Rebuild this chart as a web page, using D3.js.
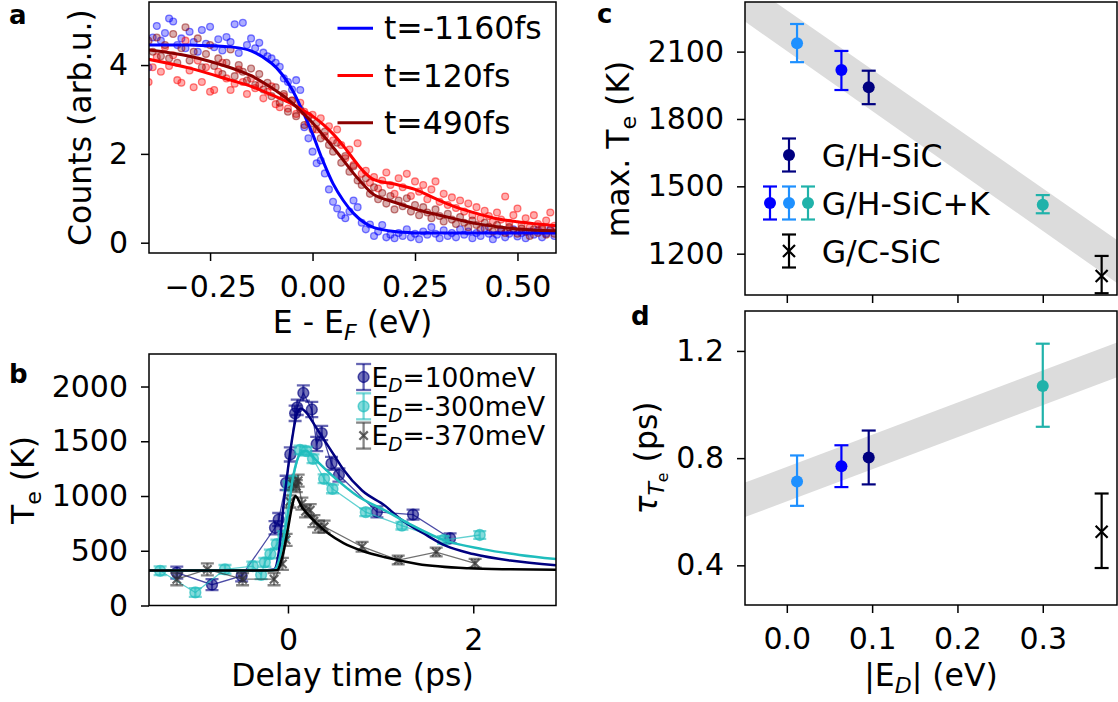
<!DOCTYPE html>
<html>
<head>
<meta charset="utf-8">
<script src="https://cdn.jsdelivr.net/npm/d3@7"></script>
<style>
  body { margin: 0; background: #fff; }
  text { font-family: "DejaVu Sans", sans-serif; }
</style>
</head>
<body>
<svg id="fig" width="1118" height="702"></svg>
<script>
/////////// panel a : EDC data ///////////
var energy = [-0.40,-0.39,-0.38,-0.37,-0.36,-0.35,-0.34,-0.33,-0.32,-0.31,
  -0.30,-0.29,-0.28,-0.27,-0.26,-0.25,-0.24,-0.23,-0.22,-0.21,
  -0.20,-0.19,-0.18,-0.17,-0.16,-0.15,-0.14,-0.13,-0.12,-0.11,
  -0.10,-0.09,-0.08,-0.07,-0.06,-0.05,-0.04,-0.03,-0.02,-0.01,
  0.00,0.01,0.02,0.03,0.04,0.05,0.06,0.07,0.08,0.09,
  0.10,0.11,0.12,0.13,0.14,0.15,0.16,0.17,0.18,0.19,
  0.20,0.21,0.22,0.23,0.24,0.25,0.26,0.27,0.28,0.29,
  0.30,0.31,0.32,0.33,0.34,0.35,0.36,0.37,0.38,0.39,
  0.40,0.41,0.42,0.43,0.44,0.45,0.46,0.47,0.48,0.49,
  0.50,0.51,0.52,0.53,0.54,0.55,0.56,0.57,0.58,0.59];
var countsBlue = [3.95,4.62,4.88,4.55,4.72,5.05,4.98,4.45,4.60,4.38,
  4.75,4.52,4.30,4.79,4.48,4.86,4.40,4.58,4.33,4.63,
  4.52,4.92,4.27,4.95,4.45,4.60,4.38,4.50,4.28,4.20,
  4.15,4.05,3.96,3.70,3.62,3.45,3.66,3.44,2.60,2.35,
  2.05,1.79,1.85,1.56,1.20,0.92,0.77,0.62,0.55,0.70,
  0.95,0.80,0.45,0.30,0.41,0.15,0.25,0.40,0.12,0.18,
  0.10,0.22,0.15,0.30,0.12,0.20,0.08,0.25,0.18,0.35,
  0.20,0.10,0.28,0.15,0.22,0.12,0.30,0.18,0.25,0.10,
  0.22,0.15,0.32,0.20,0.08,0.18,0.26,0.12,0.20,0.30,
  0.14,0.22,0.10,0.25,0.18,0.28,0.12,0.20,0.30,0.15];
var countsRed = [3.62,3.95,4.18,3.85,4.40,3.98,4.22,3.66,3.60,4.55,
  3.88,3.50,4.10,3.62,3.95,3.40,3.44,3.85,4.05,3.70,
  3.44,3.58,3.90,3.62,3.35,3.70,3.48,3.55,3.25,3.40,
  3.52,3.12,3.05,3.30,3.02,3.20,2.90,3.15,2.95,2.70,
  2.88,2.55,2.80,2.40,2.62,2.30,2.55,2.20,1.90,2.10,
  1.75,2.24,1.55,1.62,1.35,1.48,1.22,1.40,1.58,1.30,
  1.10,1.45,1.25,1.55,1.05,1.38,1.15,1.30,0.98,1.20,
  1.38,0.92,1.10,0.85,1.02,0.78,0.95,0.70,0.88,0.62,
  0.80,0.55,0.72,0.60,0.48,0.68,0.52,1.04,0.45,0.62,
  0.77,0.40,0.55,0.35,0.62,0.42,0.30,0.50,0.68,0.38];
var countsDarkRed = [4.55,4.30,4.62,4.20,4.45,4.15,4.70,4.05,4.38,4.85,
  4.10,4.30,4.60,3.95,4.25,4.45,3.98,4.15,3.80,4.05,
  4.35,3.75,4.00,3.85,3.65,3.92,3.55,3.80,3.45,3.60,
  3.30,3.50,3.15,3.35,2.95,3.20,2.85,3.00,2.65,2.85,
  2.55,2.70,2.35,2.50,2.20,2.05,2.25,1.80,1.95,1.60,
  1.72,1.40,1.30,1.45,1.10,1.25,0.98,1.12,0.88,1.05,
  0.75,0.95,0.82,1.00,0.70,0.85,0.62,0.80,0.68,0.55,
  0.75,0.60,0.48,0.65,0.52,0.42,0.58,0.45,0.35,0.50,
  0.40,0.30,0.45,0.36,0.25,0.40,0.30,0.22,0.35,0.28,
  0.20,0.32,0.25,0.15,0.30,0.22,0.35,0.18,0.28,0.20];

// fitted curves
var fitE = [-0.40,-0.30,-0.20,-0.15,-0.10,-0.075,-0.05,-0.025,0,0.025,0.05,0.075,
  0.10,0.125,0.15,0.20,0.25,0.30,0.35,0.40,0.45,0.50,0.55,0.595];
var fitBlue = [4.45,4.45,4.41,4.32,4.04,3.80,3.45,2.98,2.45,1.85,1.33,0.95,
  0.66,0.46,0.34,0.25,0.22,0.22,0.22,0.22,0.22,0.22,0.22,0.22];
var fitRed = [4.13,3.93,3.66,3.52,3.33,3.23,3.12,2.99,2.85,2.67,2.45,2.18,
  1.88,1.60,1.42,1.32,1.20,0.99,0.80,0.66,0.54,0.47,0.42,0.38];
var fitDarkRed = [4.34,4.20,3.94,3.76,3.49,3.33,3.15,2.93,2.70,2.43,2.15,1.86,
  1.56,1.30,1.08,0.91,0.76,0.64,0.53,0.43,0.36,0.31,0.28,0.27];
var legendA = ["t=-1160fs", "t=120fs", "t=490fs"];
var ticksAx = [-0.25, 0, 0.25, 0.5];
var ticksAy = [0, 2, 4];

/////////// panel b : electron temperature ///////////
var navyT   = [-1.20,-0.82,-0.50,-0.14,-0.10,-0.02,0.025,0.077,0.10,0.166,0.257,0.31,0.364,0.47,0.55,0.96,1.35,1.75];
var navyTe  = [300,190,270,710,785,1120,1380,1755,1810,1941,1790,1475,1575,1298,1192,855,830,614];
var navyErr = [55,50,50,60,60,65,65,70,70,70,70,65,65,60,60,50,45,45];
var cyanT   = [-1.38,-1.00,-0.68,-0.38,-0.29,-0.25,-0.19,-0.12,-0.05,0.01,0.05,0.13,0.20,0.27,0.39,0.48,0.84,1.23,1.68,2.07];
var cyanTe  = [317,119,330,360,280,394,470,561,640,1095,1140,1420,1410,1340,1157,1065,852,729,598,644];
var cyanErr = [40,40,40,40,40,40,40,40,40,40,40,40,40,40,40,40,35,35,35,35];
var blackT  = [-1.20,-0.87,-0.49,-0.15,-0.06,-0.02,0.02,0.05,0.09,0.11,0.15,0.19,0.24,0.28,0.33,0.39,0.80,1.19,1.60,2.02];
var blackTe = [240,330,240,240,380,600,950,1110,1090,1140,930,860,870,770,720,720,537,415,488,385];
var blackErr = [55,55,55,55,55,55,55,55,55,55,55,55,55,55,55,55,45,40,40,40];
var navyFitT  = [-1.5,-0.3,-0.15,-0.10,-0.05,0,0.05,0.10,0.14,0.20,0.30,0.40,0.50,0.60,0.80,1.05,1.20,1.50,1.70,2.00,2.40,2.893];
var navyFitTe = [320,320,330,480,900,1250,1550,1760,1800,1760,1630,1500,1370,1240,1050,910,800,640,546,470,410,368];
var cyanFitT  = [-1.5,-0.3,-0.15,-0.10,-0.05,0,0.05,0.10,0.15,0.20,0.30,0.50,0.75,1.05,1.30,1.70,2.10,2.50,2.893];
var cyanFitTe = [320,320,325,400,600,850,1150,1330,1400,1410,1330,1170,1000,866,750,592,515,462,424];
var blackFitT  = [-1.5,-0.3,-0.12,-0.06,0,0.05,0.08,0.15,0.30,0.44,0.60,0.80,1.05,1.40,1.95,2.40,2.893];
var blackFitTe = [320,320,322,450,700,930,1000,900,760,655,570,500,440,380,340,330,326];
var legendB = ["=100meV", "=-300meV", "=-370meV"];
var ticksBx = [0, 2];
var ticksBy = [0, 500, 1000, 1500, 2000];

/////////// panels c, d : vs |E_D| ///////////
var absED   = [0.012, 0.064, 0.096, 0.300, 0.369];
var maxTe   = [2137, 2018, 1941, 1418, 1101];
var maxTeLo = [2053, 1929, 1866, 1380, 1024];
var maxTeHi = [2223, 2103, 2015, 1461, 1190];
var tauTe   = [0.713, 0.770, 0.802, 1.069, 0.525];
var tauLo   = [0.622, 0.692, 0.702, 0.917, 0.390];
var tauHi   = [0.810, 0.848, 0.903, 1.227, 0.668];
var pointColor = ["#1e90ff", "#0000ff", "#000080", "#20b2aa", "#000000"];
var pointShape = ["o", "o", "o", "o", "x"];
var bandX = [-0.049, 0.387];
var bandCLo = [2234, 1069], bandCHi = [2414, 1261];
var bandDLo = [0.580, 1.102], bandDHi = [0.709, 1.231];
var legendC = ["G/H-SiC", "G/H-SiC+K", "G/C-SiC"];
var ticksCDx = [0, 0.1, 0.2, 0.3];
var ticksCy = [1200, 1500, 1800, 2100];
var ticksDy = [0.4, 0.8, 1.2];

var svg = d3.select("#fig");
svg.append("rect").attr("width", 1118).attr("height", 702).attr("fill", "#fff");
var defs = svg.append("defs");

var TICK_FS = 30, LABEL_FS = 31.5;

function makePanel(id, x0, y0, x1, y1) {
	var w = x1 - x0, h = y1 - y0;
	var g = svg.append("g").attr("transform", "translate(" + x0 + "," + y0 + ")");
	defs.append("clipPath").attr("id", id).append("rect").attr("width", w).attr("height", h);
	var plot = g.append("g").attr("clip-path", "url(#" + id + ")");
	return { g: g, plot: plot, w: w, h: h };
}

function styleAxis(ax) {
	ax.select(".domain").remove();
	ax.selectAll(".tick line").attr("stroke", "#000").attr("stroke-width", 1.5);
	ax.selectAll(".tick text").attr("font-size", TICK_FS).attr("font-family", "DejaVu Sans").attr("fill", "#000");
}

function leftAxis(p, scale, ticks, fmt) {
	var ax = p.g.append("g").call(d3.axisLeft(scale).tickValues(ticks).tickFormat(fmt).tickSize(8).tickPadding(13));
	styleAxis(ax);
}

function bottomAxis(p, scale, ticks, fmt, noLabels) {
	var a = d3.axisBottom(scale).tickValues(ticks).tickSize(8).tickPadding(14.7);
	a.tickFormat(noLabels ? function() { return ""; } : fmt);
	var ax = p.g.append("g").attr("transform", "translate(0," + p.h + ")").call(a);
	styleAxis(ax);
}

function frame(p) {
	p.g.append("rect").attr("width", p.w).attr("height", p.h)
		.attr("fill", "none").attr("stroke", "#000").attr("stroke-width", 1.5);
}

// text with subscripts: parts = [[text, kind]] kind: "", "sub", "subi", "subsub", "i"
function richText(g, parts, fs) {
	var t = g.append("text").attr("font-size", fs).attr("fill", "#000");
	var level = 0;
	parts.forEach(function(pt) {
		var s = t.append("tspan").text(pt[0]);
		var target = 0;
		if (pt[1] == "sub" || pt[1] == "subi") target = 1;
		if (pt[1] == "subsub") target = 2;
		var shift = [0, 0.22, 0.36][target] - [0, 0.22, 0.36][level];
		if (shift != 0) s.attr("dy", (shift * fs).toFixed(2));
		if (target == 1) s.attr("font-size", fs * 0.7);
		if (target == 2) s.attr("font-size", fs * 0.5);
		if (pt[1] == "subi" || pt[1] == "i") s.attr("font-style", "italic");
		level = target;
	});
	return t;
}

function panelLetter(x, y, s) {
	svg.append("text").attr("x", x).attr("y", y).attr("font-size", 26).attr("font-weight", "bold").text(s);
}

function errorbars(plot, xs, ys, lo, hi, x, y, color, capW, lw, op) {
	var eg = plot.append("g").attr("stroke", color).attr("stroke-width", lw).attr("stroke-opacity", op);
	xs.forEach(function(xv, i) {
		var px = x(xv);
		eg.append("line").attr("x1", px).attr("x2", px).attr("y1", y(lo[i])).attr("y2", y(hi[i]));
		eg.append("line").attr("x1", px - capW / 2).attr("x2", px + capW / 2).attr("y1", y(lo[i])).attr("y2", y(lo[i]));
		eg.append("line").attr("x1", px - capW / 2).attr("x2", px + capW / 2).attr("y1", y(hi[i])).attr("y2", y(hi[i]));
	});
}

function crossMark(g, px, py, r, color, lw, op) {
	g.append("path").attr("d", "M" + (px - r) + "," + (py - r) + "L" + (px + r) + "," + (py + r) +
		"M" + (px - r) + "," + (py + r) + "L" + (px + r) + "," + (py - r))
		.attr("stroke", color).attr("stroke-width", lw).attr("stroke-opacity", op).attr("fill", "none");
}

/////////// panel a ///////////
var pa = makePanel("clipA", 149, 2, 556, 253);
var xa = d3.scaleLinear().domain([-0.399, 0.594]).range([0, pa.w]);
var ya = d3.scaleLinear().domain([-0.232, 5.42]).range([pa.h, 0]);

var seriesA = [
	{ c: countsBlue, fit: fitBlue, color: "#0000ff" },
	{ c: countsRed, fit: fitRed, color: "#ff0000" },
	{ c: countsDarkRed, fit: fitDarkRed, color: "#8b0000" }
];
seriesA.forEach(function(s) {
	pa.plot.append("g").selectAll("circle").data(energy).enter().append("circle")
		.attr("cx", function(d) { return xa(d); })
		.attr("cy", function(d, i) { return ya(s.c[i]); })
		.attr("r", 3.4)
		.attr("fill", s.color).attr("fill-opacity", 0.32)
		.attr("stroke", s.color).attr("stroke-opacity", 0.5).attr("stroke-width", 1.3);
});
seriesA.forEach(function(s) {
	var line = d3.line().x(function(d) { return xa(d); }).y(function(d, i) { return ya(s.fit[i]); })
		.curve(d3.curveCatmullRom.alpha(0.5));
	pa.plot.append("path").attr("d", line(fitE)).attr("fill", "none").attr("stroke", s.color).attr("stroke-width", 3);
});
frame(pa);
leftAxis(pa, ya, ticksAy, d3.format("d"));
bottomAxis(pa, xa, ticksAx, d3.format(".2f"));

// legend a
legendA.forEach(function(lbl, i) {
	var ly = 26.3 + i * 47.2;
	pa.g.append("line").attr("x1", 337.5 - 149).attr("x2", 373 - 149).attr("y1", ly).attr("y2", ly)
		.attr("stroke", seriesA[i].color).attr("stroke-width", 3);
	pa.g.append("text").attr("x", 384 - 149).attr("y", ly + 11).attr("font-size", LABEL_FS).text(lbl);
});

richText(svg.append("g").attr("transform", "translate(352.5,333)"),
	[["E - E", ""], ["F", "subi"], [" (eV)", ""]], LABEL_FS).attr("text-anchor", "middle");
svg.append("text").attr("transform", "translate(91,127.5) rotate(-90)").attr("text-anchor", "middle")
	.attr("font-size", LABEL_FS).text("Counts (arb.u.)");
panelLetter(9, 24, "a");

/////////// panel b ///////////
var pb = makePanel("clipB", 149, 354, 556, 605.5);
var xb = d3.scaleLinear().domain([-1.50, 2.893]).range([0, pb.w]);
var yb = d3.scaleLinear().domain([0, 2297]).range([pb.h, 0]);

var seriesB = [
	{ t: navyT, te: navyTe, err: navyErr, color: "#000080", fitT: navyFitT, fitTe: navyFitTe, fitColor: "#000080", mk: "o" },
	{ t: cyanT, te: cyanTe, err: cyanErr, color: "#1fbdbd", fitT: cyanFitT, fitTe: cyanFitTe, fitColor: "#1fbdbd", mk: "o" },
	{ t: blackT, te: blackTe, err: blackErr, color: "#333333", fitT: blackFitT, fitTe: blackFitTe, fitColor: "#000000", mk: "x" }
];
function bMarker(g, s, px, py) {
	if (s.mk == "o") {
		g.append("circle").attr("cx", px).attr("cy", py).attr("r", 5.4)
			.attr("fill", s.color).attr("fill-opacity", 0.55)
			.attr("stroke", s.color).attr("stroke-opacity", 0.65).attr("stroke-width", 1.5);
	} else {
		crossMark(g, px, py, 4.2, s.color, 2.2, 0.75);
	}
}
seriesB.forEach(function(s) {
	var pts = s.t.map(function(t, i) { return [t, s.te[i]]; });
	var line = d3.line().x(function(d) { return xb(d[0]); }).y(function(d) { return yb(d[1]); });
	pb.plot.append("path").attr("d", line(pts)).attr("fill", "none")
		.attr("stroke", s.color).attr("stroke-width", 1.3).attr("stroke-opacity", 0.7);
	var lo = s.te.map(function(v, i) { return v - s.err[i]; });
	var hi = s.te.map(function(v, i) { return v + s.err[i]; });
	errorbars(pb.plot, s.t, s.te, lo, hi, xb, yb, s.color, 13, 2.3, 0.6);
	var mg = pb.plot.append("g");
	pts.forEach(function(d) { bMarker(mg, s, xb(d[0]), yb(d[1])); });
});
seriesB.forEach(function(s) {
	var pts = s.fitT.map(function(t, i) { return [t, s.fitTe[i]]; });
	var line = d3.line().x(function(d) { return xb(d[0]); }).y(function(d) { return yb(d[1]); }).curve(d3.curveMonotoneX);
	pb.plot.append("path").attr("d", line(pts)).attr("fill", "none")
		.attr("stroke", s.fitColor).attr("stroke-width", 2.5);
});
frame(pb);
leftAxis(pb, yb, ticksBy, d3.format("d"));
bottomAxis(pb, xb, ticksBx, d3.format("d"));

// legend b
legendB.forEach(function(lbl, i) {
	var s = seriesB[i];
	var ly = 377 - 354 + i * 29.3;
	var hx = 363.6 - 149;
	var lg = pb.g.append("g");
	errorbars(lg, [0], [0], [-13], [13], function(v) { return hx; }, function(v) { return ly + v; }, s.color, 15, 2.3, 0.6);
	bMarker(lg, s, hx, ly);
	richText(lg.append("g").attr("transform", "translate(" + (371.4 - 149) + "," + (ly + 9.5) + ")"),
		[["E", ""], ["D", "subi"], [lbl, ""]], 26.5);
});

svg.append("text").attr("x", 352.5).attr("y", 686).attr("text-anchor", "middle")
	.attr("font-size", LABEL_FS).text("Delay time (ps)");
richText(svg.append("g").attr("transform", "translate(34,480) rotate(-90)"),
	[["T", ""], ["e", "sub"], [" (K)", ""]], LABEL_FS).attr("text-anchor", "middle");
panelLetter(9, 383, "b");

/////////// panels c and d ///////////
var pc = makePanel("clipC", 745, 2, 1117, 295);
var pd = makePanel("clipD", 745, 311, 1117, 605);
var xcd = d3.scaleLinear().domain([-0.049, 0.387]).range([0, pc.w]);
var yc = d3.scaleLinear().domain([1016, 2321]).range([pc.h, 0]);
var yd = d3.scaleLinear().domain([0.252, 1.349]).range([pd.h, 0]);

function drawBand(p, y, lo, hi) {
	var area = d3.area().x(function(d) { return xcd(d); })
		.y0(function(d, i) { return y(lo[i]); }).y1(function(d, i) { return y(hi[i]); });
	p.plot.append("path").attr("d", area(bandX)).attr("fill", "#dcdcdc");
}

function drawPoints(g, xs, ys, lo, hi, x, y) {
	xs.forEach(function(xv, i) {
		errorbars(g, [xv], [ys[i]], [lo[i]], [hi[i]], x, y, pointColor[i], 14, 2.2, 1);
		if (pointShape[i] == "o") {
			g.append("circle").attr("cx", x(xv)).attr("cy", y(ys[i])).attr("r", 6).attr("fill", pointColor[i]);
		} else {
			crossMark(g, x(xv), y(ys[i]), 6, pointColor[i], 2.2, 1);
		}
	});
}

drawBand(pc, yc, bandCLo, bandCHi);
drawPoints(pc.plot, absED, maxTe, maxTeLo, maxTeHi, xcd, yc);
frame(pc);
leftAxis(pc, yc, ticksCy, d3.format("d"));
bottomAxis(pc, xcd, ticksCDx, null, true);

drawBand(pd, yd, bandDLo, bandDHi);
drawPoints(pd.plot, absED, tauTe, tauLo, tauHi, xcd, yd);
frame(pd);
leftAxis(pd, yd, ticksDy, d3.format(".1f"));
bottomAxis(pd, xcd, ticksCDx, d3.format(".1f"));

// legend c
var lgc = pc.g.append("g");
var legRows = [
	{ y: 155, xs: [789], cols: ["#000080"], mk: "o" },
	{ y: 203, xs: [770, 789, 808], cols: ["#0000ff", "#1e90ff", "#20b2aa"], mk: "o" },
	{ y: 251, xs: [789], cols: ["#000000"], mk: "x" }
];
legRows.forEach(function(r, i) {
	var ly = r.y - 2;
	r.xs.forEach(function(hx, j) {
		var px = hx - 745;
		errorbars(lgc, [0], [0], [-16.5], [16.5], function() { return px; }, function(v) { return ly + v; }, r.cols[j], 14, 2.2, 1);
		if (r.mk == "o") lgc.append("circle").attr("cx", px).attr("cy", ly).attr("r", 6).attr("fill", r.cols[j]);
		else crossMark(lgc, px, ly, 6, r.cols[j], 2.2, 1);
	});
	lgc.append("text").attr("x", 821.7 - 745).attr("y", ly + 11.5).attr("font-size", LABEL_FS).text(legendC[i]);
});

richText(svg.append("g").attr("transform", "translate(629,149) rotate(-90)"),
	[["max. T", ""], ["e", "sub"], [" (K)", ""]], LABEL_FS).attr("text-anchor", "middle");
richText(svg.append("g").attr("transform", "translate(657,458) rotate(-90)"),
	[["\u03c4", "i"], ["T", "subi"], ["e", "subsub"], [" (ps)", ""]], LABEL_FS).attr("text-anchor", "middle");
richText(svg.append("g").attr("transform", "translate(931,686)"),
	[["|E", ""], ["D", "subi"], ["| (eV)", ""]], LABEL_FS).attr("text-anchor", "middle");
panelLetter(597, 23, "c");
panelLetter(631, 325, "d");
</script>
</body>
</html>
